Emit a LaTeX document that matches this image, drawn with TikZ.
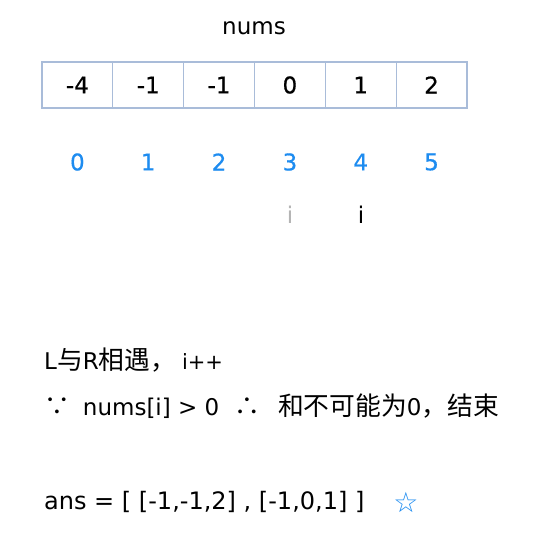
\documentclass[tikz,border=0pt]{standalone}
\usepackage{fontspec}
\setmainfont{DejaVu Sans}
\newfontfamily\cjk[Scale=1.12]{Noto Sans CJK SC}
\newfontfamily\numfont[FakeBold=0.6]{DejaVu Sans}
\definecolor{cellline}{HTML}{A9BCD9}
\definecolor{idxblue}{HTML}{1E8CF0}
\definecolor{oldgray}{HTML}{B4B4B4}
\tikzset{
    cellbox/.style = {draw = cellline, line width = 1.2pt, minimum width = 70.83pt, minimum height = 46pt, font = \fontsize{23}{27}\numfont},
    idxnum/.style = {text = idxblue, font = \fontsize{23}{27}\numfont}
}
\begin{document}
\begin{tikzpicture}[x = 1pt, y = -1pt, every node/.style = {font = \fontsize{23}{27}\selectfont, inner sep = 0pt}]
        \useasboundingbox (0,0) rectangle (535,544);
        \node (title) at (254,28) {nums};
        \foreach \v [count = \k from 0] in {-4, -1, -1, 0, 1, 2} {
            \node[cellbox] (cell\k) at (77.4+70.83*\k,85) {\v};
            \node[idxnum] (idx\k) at (77.4+70.83*\k,162) {\k};
        }
        \node[text = oldgray] (iold) at (290,215) {i};
        \node (inew) at (361,215) {i};
        \begin{scope}[every node/.append style = {anchor = west}]
            \node (meet) at (44,360) {L{\cjk 与}R{\cjk 相遇，}\hspace{6pt}{\fontsize{21}{24}\selectfont i++}};
            \node (reason) at (44,406) {{\cjk ∵}\hspace{13pt}nums[i] > 0\hspace{15pt}{\cjk ∴}\hspace{18pt}{\cjk 和不可能为}0{\cjk ，结束}};
            \node[font = \fontsize{24}{28}\selectfont] (ans) at (44,502) {ans = [ [-1,-1,2] , [-1,0,1] ]};
        \end{scope}
        \node[text = idxblue, font = \fontsize{28}{32}\selectfont] (star) at (406,502) {☆};
    \end{tikzpicture}
\end{document}
